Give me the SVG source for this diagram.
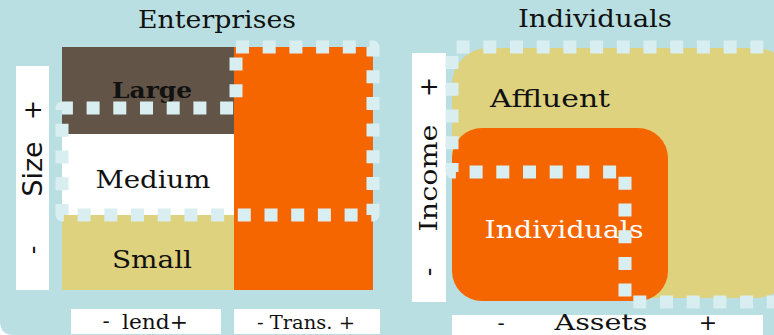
<svg xmlns="http://www.w3.org/2000/svg" width="774" height="335" viewBox="0 0 774 335">
  <style>
    .serif { font-family: "DejaVu Serif", "Liberation Serif", serif; fill: #111; }
    .sans { font-family: "DejaVu Sans", "Liberation Sans", sans-serif; fill: #111; }
    .bar { fill: #ffffff; }
    .dots { fill: none; stroke: #d9eef0; stroke-width: 13; stroke-dasharray: 13 13.7; stroke-linejoin: round; }
  </style>
  <!-- backdrop -->
  <path d="M0,0 H774 V335 H14 Q0,335 0,321 Z" fill="#b9dfe2"/>

  <!-- Enterprises panel -->
  <g id="enterprises">
    <text class="serif" x="217" y="28" font-size="24" text-anchor="middle" textLength="158" lengthAdjust="spacingAndGlyphs">Enterprises</text>
    <g id="size-axis">
      <rect class="bar" x="16" y="66" width="33" height="224"/>
      <text class="sans" font-size="24" text-anchor="middle" transform="translate(41,110) rotate(-90)">+</text>
      <text class="sans" font-size="27" text-anchor="middle" transform="translate(42,169) rotate(-90)" textLength="55" lengthAdjust="spacingAndGlyphs">Size</text>
      <text class="sans" font-size="24" text-anchor="middle" transform="translate(41,250) rotate(-90)">-</text>
    </g>
    <g id="large">
      <rect x="62" y="47" width="172" height="87" fill="#625548"/>
      <text class="serif" x="152" y="98" font-size="23" font-weight="bold" text-anchor="middle" textLength="80" lengthAdjust="spacingAndGlyphs">Large</text>
    </g>
    <g id="medium">
      <rect x="62" y="134" width="172" height="81" fill="#ffffff"/>
      <text class="serif" x="153" y="188" font-size="24" text-anchor="middle" textLength="115" lengthAdjust="spacingAndGlyphs">Medium</text>
    </g>
    <g id="small">
      <rect x="62" y="215" width="172" height="75" fill="#ded27e"/>
      <text class="serif" x="152" y="268" font-size="24" text-anchor="middle" textLength="80" lengthAdjust="spacingAndGlyphs">Small</text>
    </g>
    <g id="transactional">
      <rect x="234" y="47" width="139" height="243" fill="#f56600"/>
    </g>
    <g id="lend-axis">
      <rect class="bar" x="71" y="309" width="150" height="25"/>
      <text class="sans" x="106" y="328" font-size="20" text-anchor="middle">-</text>
      <text class="serif" x="155" y="329" font-size="20" text-anchor="middle" textLength="66" lengthAdjust="spacingAndGlyphs">lend+</text>
    </g>
    <g id="trans-axis">
      <rect class="bar" x="234" y="309" width="146" height="25"/>
      <text class="serif" x="306" y="329" font-size="18" text-anchor="middle" textLength="98" lengthAdjust="spacingAndGlyphs">- Trans. +</text>
    </g>
  </g>

  <!-- Individuals panel -->
  <g id="individuals-panel">
    <text class="serif" x="595" y="27" font-size="24" text-anchor="middle" textLength="154" lengthAdjust="spacingAndGlyphs">Individuals</text>
    <g id="income-axis">
      <rect class="bar" x="412" y="53" width="34" height="249"/>
      <text class="sans" font-size="24" text-anchor="middle" transform="translate(437,87) rotate(-90)">+</text>
      <text class="serif" font-size="25" text-anchor="middle" transform="translate(437,178) rotate(-90)" textLength="107" lengthAdjust="spacingAndGlyphs">Income</text>
      <text class="sans" font-size="24" text-anchor="middle" transform="translate(437,272) rotate(-90)">-</text>
    </g>
    <g id="affluent">
      <rect x="452" y="48" width="340" height="250" rx="36" fill="#ded27e"/>
      <text class="serif" x="550" y="107" font-size="24" text-anchor="middle" textLength="120" lengthAdjust="spacingAndGlyphs">Affluent</text>
    </g>
    <g id="individuals">
      <rect x="452" y="128" width="216" height="173" rx="30" fill="#f56600"/>
      <text class="serif" x="564" y="238" font-size="24" text-anchor="middle" style="fill:#ffffff" textLength="159" lengthAdjust="spacingAndGlyphs">Individuals</text>
    </g>
    <g id="assets-axis">
      <rect class="bar" x="452" y="315" width="311" height="22"/>
      <text class="sans" x="501" y="330" font-size="20" text-anchor="middle">-</text>
      <text class="serif" x="601" y="330" font-size="22" text-anchor="middle" textLength="93" lengthAdjust="spacingAndGlyphs">Assets</text>
      <text class="sans" x="708" y="330" font-size="22" text-anchor="middle">+</text>
    </g>
  </g>

  <!-- dotted segment outlines -->
  <g id="connectors">
    <path class="dots" d="M236,47 H373 V215 H62 V108 H236 Z"/>
    <path class="dots" d="M790,47 H452 V172 H625 V302 H790"/>
  </g>
</svg>
